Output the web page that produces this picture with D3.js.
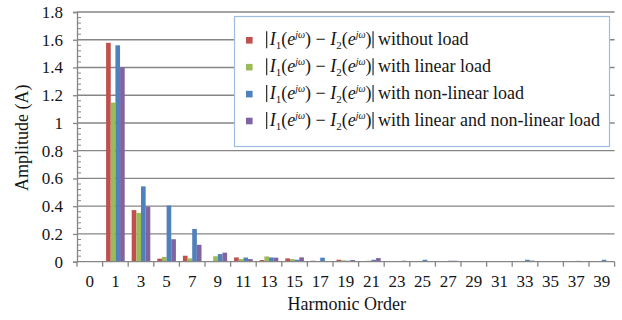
<!DOCTYPE html>
<html>
<head>
<meta charset="utf-8">
<script src="https://cdn.jsdelivr.net/npm/d3@7"></script>
<style>
  html, body { margin: 0; padding: 0; background: #fff; }
  svg { display: block; }
</style>
</head>
<body>
<svg id="chart" width="622" height="320"></svg>
<script>
// Harmonic orders shown on the category axis
const harmonics = ["0","1","3","5","7","9","11","13","15","17","19","21","23","25","27","29","31","33","35","37","39"];

// |I1 - I2| amplitude (A) per harmonic, one array per load case
const withoutLoad   = [0, 1.578, 0.372, 0.022, 0.043, 0.005, 0.031, 0.012, 0.024, 0.007, 0.014, 0.003, 0.002, 0.002, 0.002, 0.002, 0.002, 0.002, 0.002, 0.002, 0.002];
const linearLoad    = [0, 1.147, 0.352, 0.034, 0.024, 0.039, 0.019, 0.038, 0.019, 0.005, 0.010, 0.007, 0.002, 0.002, 0.002, 0.002, 0.002, 0.002, 0.002, 0.002, 0.002];
const nonLinearLoad = [0, 1.560, 0.543, 0.405, 0.236, 0.055, 0.030, 0.031, 0.014, 0.029, 0.007, 0.014, 0.003, 0.014, 0.007, 0.004, 0.002, 0.014, 0.005, 0.006, 0.014];
const mixedLoad     = [0, 1.400, 0.397, 0.162, 0.122, 0.065, 0.019, 0.029, 0.031, 0.002, 0.012, 0.026, 0.007, 0.003, 0.007, 0.005, 0.004, 0.008, 0.005, 0.003, 0.003];

const seriesNames  = ["without load", "with linear load", "with non-linear load", "with linear and non-linear load"];
const seriesColors = ["#c0504d", "#9bbb59", "#4f81bd", "#8064a2"];
const seriesValues = [withoutLoad, linearLoad, nonLinearLoad, mixedLoad];

const yTicks = [0, 0.2, 0.4, 0.6, 0.8, 1, 1.2, 1.4, 1.6, 1.8];

const FONT = "'Liberation Serif', 'Times New Roman', serif";
const svg = d3.select("#chart");
const plotL = 77, plotR = 614.6, plotT = 12, plotB = 261.7;

const x0 = d3.scaleBand().domain(harmonics).range([plotL, plotR]).paddingInner(0).paddingOuter(0);
const x1 = d3.scaleBand().domain(d3.range(seriesNames.length)).range([0, x0.bandwidth()])
  .paddingInner(0).paddingOuter(0.75);
const y = d3.scaleLinear().domain([0, 1.8]).range([plotB, plotT]);

const axisColor = "#868686";
const ink = "#151515";

// horizontal gridlines at each major tick
svg.append("g").selectAll("line").data(yTicks.filter(d => d > 0)).join("line")
  .attr("x1", plotL).attr("x2", plotR)
  .attr("y1", d => y(d)).attr("y2", d => y(d))
  .attr("stroke", axisColor).attr("stroke-width", 1.3);

// y axis: outward major ticks, inward minor ticks
const yAxis = svg.append("g").attr("transform", `translate(${plotL},0)`)
  .call(d3.axisLeft(y).tickValues(yTicks).tickSize(4).tickPadding(10).tickFormat(d => String(+d.toFixed(1))));
yAxis.select(".domain").attr("stroke", axisColor).attr("stroke-width", 1.3);
yAxis.selectAll(".tick line").attr("stroke", axisColor).attr("stroke-width", 1.3);
yAxis.selectAll(".tick text").style("font-family", FONT).style("font-size", "17px").attr("fill", ink);

const minor = d3.range(0, 1.8001, 0.04).filter(v => Math.abs(v / 0.2 - Math.round(v / 0.2)) > 1e-6);
svg.append("g").selectAll("line").data(minor).join("line")
  .attr("x1", plotL).attr("x2", plotL + 4)
  .attr("y1", d => y(d)).attr("y2", d => y(d))
  .attr("stroke", axisColor).attr("stroke-width", 1);

// bars
const groups = svg.append("g").selectAll("g").data(harmonics).join("g")
  .attr("transform", d => `translate(${x0(d)},0)`);
groups.selectAll("rect")
  .data((h, i) => seriesValues.map((vals, s) => ({ s, v: vals[i] })))
  .join("rect")
  .attr("x", d => x1(d.s))
  .attr("width", x1.bandwidth())
  .attr("y", d => y(d.v))
  .attr("height", d => plotB - y(d.v))
  .attr("fill", d => seriesColors[d.s]);

// x axis with ticks between categories
const xAxis = svg.append("g").attr("transform", `translate(0,${plotB})`);
xAxis.append("line").attr("x1", plotL).attr("x2", plotR).attr("stroke", axisColor).attr("stroke-width", 1.3);
xAxis.selectAll("line.tk").data(d3.range(harmonics.length + 1)).join("line").attr("class", "tk")
  .attr("x1", i => plotL + i * x0.step()).attr("x2", i => plotL + i * x0.step())
  .attr("y1", 0).attr("y2", 5).attr("stroke", axisColor).attr("stroke-width", 1.3);
xAxis.selectAll("text").data(harmonics).join("text")
  .attr("x", d => x0(d) + x0.bandwidth() / 2).attr("y", 25)
  .attr("text-anchor", "middle").attr("fill", ink)
  .style("font-family", FONT).style("font-size", "17px")
  .text(d => d);

// axis titles
svg.append("text").attr("x", (plotL + plotR) / 2 + 1).attr("y", 310)
  .attr("text-anchor", "middle").attr("fill", ink)
  .style("font-family", FONT).style("font-size", "18px").text("Harmonic Order");
svg.append("text").attr("transform", `translate(28,${(plotT + plotB) / 2 + 1}) rotate(-90)`)
  .attr("text-anchor", "middle").attr("fill", ink)
  .style("font-family", FONT).style("font-size", "18px").text("Amplitude (A)");

// legend
const lg = svg.append("g");
lg.append("rect").attr("x", 234.5).attr("y", 16.5).attr("width", 375).attr("height", 130)
  .attr("fill", "#fff").attr("stroke", "#9dbde0").attr("stroke-width", 1.2);

seriesNames.forEach((name, i) => {
  const cy = 40.3 + i * 26.9;
  const row = lg.append("g");
  row.append("rect").attr("x", 246).attr("y", cy - 3.3).attr("width", 6.6).attr("height", 6.6)
    .attr("fill", seriesColors[i]);
  const barL = 266.7;
  row.append("line").attr("x1", barL).attr("x2", barL).attr("y1", cy - 9).attr("y2", cy + 8)
    .attr("stroke", ink).attr("stroke-width", 1.1);
  const t = row.append("text").attr("x", barL + 3).attr("y", cy + 5).attr("fill", ink)
    .style("font-family", FONT).style("font-size", "18px");
  const part = (txt, opts = {}) => {
    const s = t.append("tspan").text(txt);
    if (opts.it) s.style("font-style", "italic");
    if (opts.fs) s.style("font-size", opts.fs + "px");
    if (opts.dy) s.attr("dy", opts.dy);
    return s;
  };
  const term = (n) => {
    part("I", { it: true });
    part(n, { fs: 11, dy: 4 });
    part("(", { dy: -4 });
    part("e", { it: true });
    part("jω", { it: true, fs: 10, dy: -7 });
    part(")", { dy: 7 });
  };
  term("1");
  part(" \u2212 ");
  term("2");
  const w = t.node().getComputedTextLength();
  const barR = barL + 3 + w + 1.5;
  row.append("line").attr("x1", barR).attr("x2", barR).attr("y1", cy - 9).attr("y2", cy + 8)
    .attr("stroke", ink).attr("stroke-width", 1.1);
  row.append("text").attr("x", barR + 5).attr("y", cy + 5).attr("fill", ink)
    .style("font-family", FONT).style("font-size", "18px")
    .text(name);
});
</script>
</body>
</html>
